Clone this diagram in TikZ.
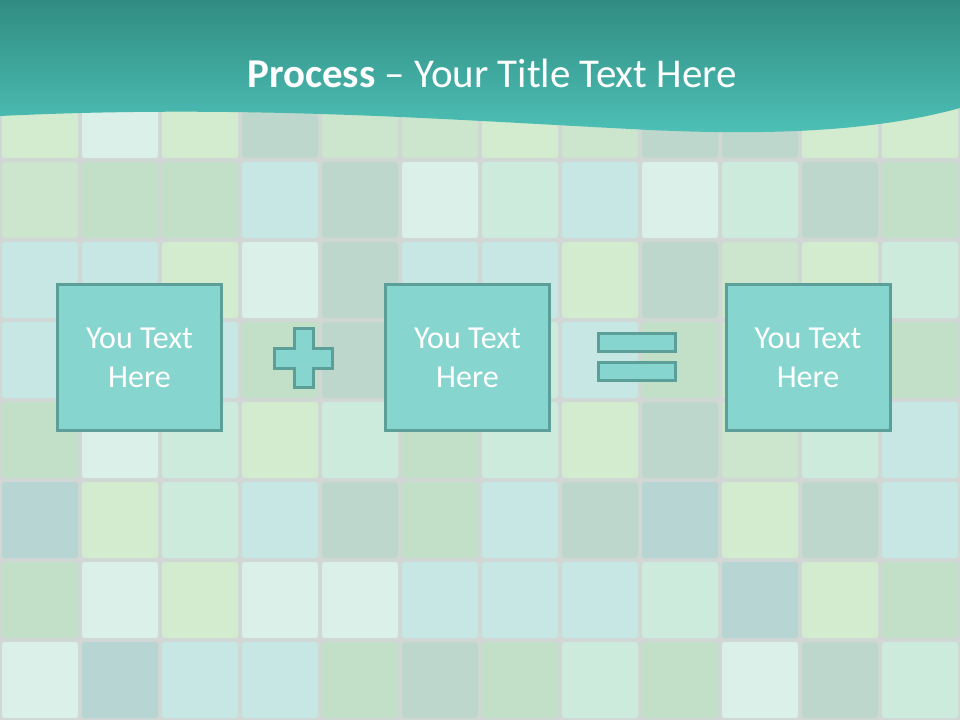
\documentclass[tikz,border=0pt]{standalone}
\usepackage{fontspec}
\setmainfont{Carlito}
\usepackage{tikz}
\usetikzlibrary{positioning,calc}
\definecolor{cGrout}{HTML}{D0D7D4}
\definecolor{cHeadTop}{HTML}{308C82}
\definecolor{cHeadBot}{HTML}{4EC1B7}
\definecolor{cBox}{HTML}{86D6CF}
\definecolor{cEdge}{HTML}{5C9F98}
\definecolor{tA}{HTML}{CBE6CD}
\definecolor{tB}{HTML}{DAF0E8}
\definecolor{tC}{HTML}{D3EBCF}
\definecolor{tD}{HTML}{BDD7CD}
\definecolor{tE}{HTML}{C7E7E4}
\definecolor{tF}{HTML}{C1E0C7}
\definecolor{tG}{HTML}{B7D5D3}
\definecolor{tH}{HTML}{CDEBDD}
\tikzset{
  tile/.style={rounded corners=2pt},
  opbox/.style={rectangle, draw=cEdge, fill=cBox, line width=2.25pt, minimum width=123pt, minimum height=109.5pt, align=center, text=white, font=\fontsize{24}{29.25}\selectfont, inner sep=0pt},
  opbar/.style={rectangle, draw=cEdge, fill=cBox, line width=2.25pt, minimum width=57.75pt, minimum height=13.5pt, inner sep=0pt},
  opsign/.style={draw=cEdge, fill=cBox, line width=2.25pt},
}

\begin{document}
\begin{tikzpicture}[x=0.75pt, y=-0.75pt]
  \useasboundingbox (0,0) rectangle (960,720);
  \fill[cGrout] (0,0) rectangle (960,720);
  \foreach \row [count=\i from 0] in {
      {C,B,C,D,A,A,C,A,D,D,C,C},
      {A,F,F,E,D,B,H,E,B,H,D,F},
      {E,E,C,B,D,E,E,C,D,A,C,H},
      {E,E,E,F,D,E,H,E,F,A,D,F},
      {F,B,H,C,H,F,H,C,D,A,H,E},
      {G,C,H,E,D,F,E,D,G,C,D,E},
      {F,B,C,B,B,E,E,E,H,G,C,F},
      {B,G,E,E,F,D,F,H,F,B,D,H}}
    \foreach \col [count=\j from 0] in \row
      \fill[tile, t\col] (\j*80+2, 80+\i*80+2) rectangle ++(76,76);
  \shade[top color=cHeadTop, bottom color=cHeadBot]
    (0,0) -- (960,0) -- (960,108)
    .. controls (880,130) and (780,136) .. (650,130)
    .. controls (450,120) and (250,104) .. (0,116) -- cycle;
  \node[text=white, font=\fontsize{30.7}{36}\selectfont, anchor=base] (title) at (492,88)
    {\textbf{Process} -- Your Title Text Here};
  \node[opbox] (box1) at (139.5,357.5) {You Text\\Here};
  \node[opbox] (box2) at (467.5,357.5) {You Text\\Here};
  \node[opbox] (box3) at (808,357.5) {You Text\\Here};
  \draw[opsign] (294.5,328.5) -- (313,328.5) -- (313,348) -- (332.5,348) -- (332.5,368)
    -- (313,368) -- (313,387.5) -- (294.5,387.5) -- (294.5,368) -- (274.5,368)
    -- (274.5,348) -- (294.5,348) -- cycle;
  \node[opbar] (eqtop) at (636.7,342.8) {};
  \node[opbar] (eqbot) at (636.7,371.7) {};
\end{tikzpicture}
\end{document}
